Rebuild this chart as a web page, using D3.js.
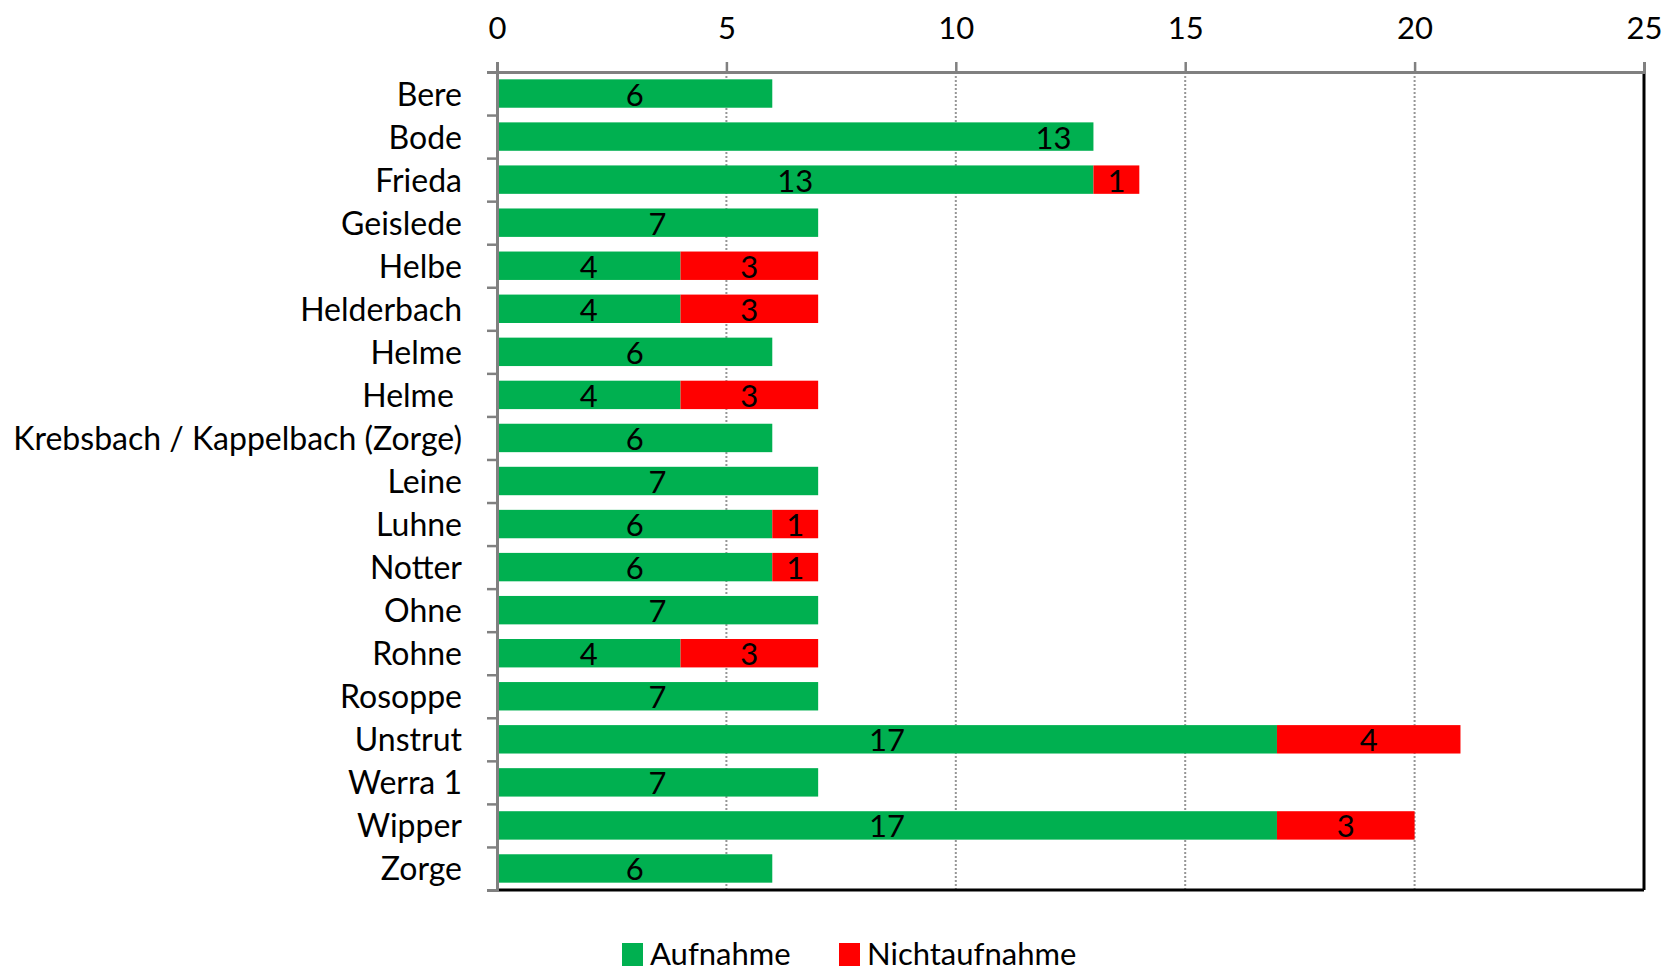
<html>
<head>
<script src="https://d3js.org/d3.v7.min.js"></script>
<style>
    body { margin: 0; background: #fff; }
    text { font-family: Lato, "Open Sans", sans-serif; fill: #000; }
</style>
</head>
<body>
<svg id="plot"></svg>
<script>

// chart data
var names = ["Bere","Bode","Frieda","Geislede","Helbe","Helderbach","Helme","Helme ",
    "Krebsbach / Kappelbach (Zorge)","Leine","Luhne","Notter","Ohne","Rohne","Rosoppe",
    "Unstrut","Werra 1","Wipper","Zorge"]
var aufnahme =      [6,13,13,7,4,4,6,4,6,7,6,6,7,4,7,17,7,17,6]
var nichtaufnahme = [0,0,1,0,3,3,0,3,0,0,1,1,0,3,0,4,0,3,0]
var xTicks = [0,5,10,15,20,25]
var seriesNames = ["Aufnahme","Nichtaufnahme"]
var seriesColors = ["#00b050","#ff0000"]
// the one label Excel put at the inside end of its bar
var labelAtEnd = ["Bode"]

var screen = {width:1673, height:972}
var margins = {top:72, bottom:82, left:497, right:29}
var graph = {
    width:screen.width-margins.left-margins.right,
    height:screen.height-margins.top-margins.bottom
}

var svg = d3.select("#plot")
    .attr("width",screen.width)
    .attr("height",screen.height)

var g = svg.append("g")
    .attr("transform","translate("+margins.left+","+margins.top+")")

var xScale = d3.scaleLinear()
    .domain([0,25])
    .range([0,graph.width])

var idx = d3.range(names.length)

var yScale = d3.scaleBand()
    .domain(idx)
    .range([0,graph.height])
    .paddingInner(0.34)
    .paddingOuter(0.17)

// boundary scale for the category ticks
var yEdge = d3.scaleLinear()
    .domain([0,names.length])
    .range([0,graph.height])

//dotted gridlines
g.append("g")
    .selectAll("line")
    .data(xTicks.filter(function(t){return t>0 && t<25}))
    .enter()
    .append("line")
    .attr("x1",function(t){return xScale(t)})
    .attr("x2",function(t){return xScale(t)})
    .attr("y1",0)
    .attr("y2",graph.height)
    .attr("stroke","#969696")
    .attr("stroke-width",2)
    .attr("stroke-dasharray","2,2")

//stacked bars
var rows = idx.map(function(i){
    return {i:i, name:names[i], a:aufnahme[i], n:nichtaufnahme[i]}
})
var stack = d3.stack().keys(["a","n"])
var series = stack(rows)

var layers = g.append("g")
    .selectAll("g")
    .data(series)
    .enter()
    .append("g")
    .attr("fill",function(d,k){return seriesColors[k]})

layers.selectAll("rect")
    .data(function(d){return d.filter(function(p){return p[1]-p[0]>0})})
    .enter()
    .append("rect")
    .attr("x",function(p){return xScale(p[0])})
    .attr("y",function(p){return yScale(p.data.i)})
    .attr("width",function(p){return xScale(p[1])-xScale(p[0])})
    .attr("height",yScale.bandwidth())

//data labels
layers.selectAll("text")
    .data(function(d){return d.filter(function(p){return p[1]-p[0]>0})})
    .enter()
    .append("text")
    .attr("x",function(p){
        if(labelAtEnd.indexOf(p.data.name)>=0)
            return xScale(p[1])-40
        return (xScale(p[0])+xScale(p[1]))/2
    })
    .attr("y",function(p){return yScale(p.data.i)+yScale.bandwidth()/2+12})
    .attr("text-anchor","middle")
    .style("font-size","31px")
    .text(function(p){return p[1]-p[0]})

//plot border right and bottom
g.append("line")
    .attr("x1",0).attr("x2",graph.width)
    .attr("y1",graph.height).attr("y2",graph.height)
    .attr("stroke","#000").attr("stroke-width",3)
g.append("line")
    .attr("x1",graph.width).attr("x2",graph.width)
    .attr("y1",0).attr("y2",graph.height)
    .attr("stroke","#000").attr("stroke-width",3)

//top axis
var xAxis = d3.axisTop(xScale)
    .tickValues(xTicks)
    .tickSize(10)
    .tickPadding(23)
g.append("g")
    .attr("class","xaxis")
    .call(xAxis)
g.select(".xaxis").selectAll("text")
    .style("font-size","31px")
    .attr("font-family",null)

//left axis ticks on band edges
var yAxis = d3.axisLeft(yEdge)
    .tickValues(d3.range(names.length+1))
    .tickSize(10)
    .tickFormat("")
g.append("g")
    .attr("class","yaxis")
    .call(yAxis)

svg.selectAll(".xaxis path, .xaxis line, .yaxis path, .yaxis line")
    .attr("stroke","#808080")
    .attr("stroke-width",2.5)
svg.selectAll(".xaxis text").attr("fill","#000")
svg.selectAll(".domain").attr("stroke-width",3)

//category labels
g.append("g")
    .selectAll("text")
    .data(rows)
    .enter()
    .append("text")
    .attr("x",-35)
    .attr("y",function(r){return yScale(r.i)+yScale.bandwidth()/2+12})
    .attr("text-anchor","end")
    .style("font-size","32px")
    .style("white-space","pre")
    .text(function(r){return r.name})

//legend
var legend = svg.append("g")
    .attr("transform","translate(622,943)")
var items = legend.selectAll("g")
    .data(seriesNames)
    .enter()
    .append("g")
    .attr("transform",function(d,k){return "translate("+(k*217)+",0)"})
items.append("rect")
    .attr("width",21).attr("height",23)
    .attr("fill",function(d,k){return seriesColors[k]})
items.append("text")
    .attr("x",28)
    .attr("y",22)
    .style("font-size","31px")
    .text(function(d){return d})

</script>
</body>
</html>
